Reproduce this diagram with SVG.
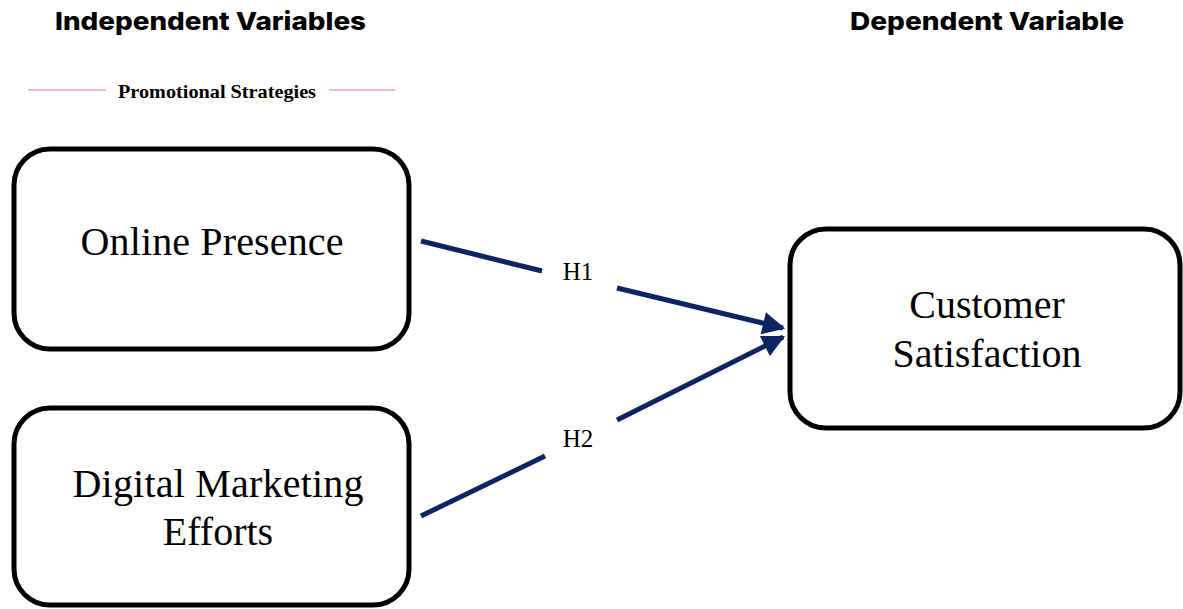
<svg xmlns="http://www.w3.org/2000/svg" width="1183" height="609" viewBox="0 0 1183 609">
<style>
.title{font-family:Inter,"Open Sans","Liberation Sans",sans-serif;font-weight:800;font-size:25px;fill:#000}
.box{fill:#fff;stroke:#000;stroke-width:5}
.lbl{font-family:"Liberation Serif","Times New Roman",serif;font-size:40px;fill:#000;text-anchor:middle}
.h{font-family:"Liberation Serif","Times New Roman",serif;font-size:25px;fill:#000;text-anchor:middle}
.conn{stroke:#0c2461;stroke-width:5;fill:none}
.sub{font-family:"Liberation Serif","Times New Roman",serif;font-weight:700;font-size:19px;fill:#000}
.red{stroke:#f4a3a3;stroke-width:1.5}
</style>
<defs>
<marker id="arr" viewBox="0 0 10 10" refX="9" refY="5" markerWidth="5" markerHeight="4.5" orient="auto" markerUnits="strokeWidth">
<path d="M0,0 L10,5 L0,10 z" fill="#0c2461"/>
</marker>
</defs>
<rect width="1183" height="609" fill="#fff"/>
<g id="headers">
<text class="title" x="55" y="30" textLength="311" lengthAdjust="spacingAndGlyphs">Independent Variables</text>
<text class="title" x="850" y="30" textLength="274" lengthAdjust="spacingAndGlyphs">Dependent Variable</text>
<line class="red" x1="28" y1="90" x2="106" y2="90"/>
<line class="red" x1="329" y1="90" x2="395" y2="90"/>
<text class="sub" x="118" y="98" textLength="198" lengthAdjust="spacingAndGlyphs">Promotional Strategies</text>
</g>
<g id="node-online-presence">
<rect class="box" x="14" y="149" width="395" height="200" rx="36"/>
<text class="lbl" x="212" y="255" textLength="263" lengthAdjust="spacing">Online Presence</text>
</g>
<g id="node-digital-marketing">
<rect class="box" x="14" y="408" width="395" height="197" rx="36"/>
<text class="lbl" x="218" y="497" textLength="291" lengthAdjust="spacing">Digital Marketing</text>
<text class="lbl" x="218" y="545">Efforts</text>
</g>
<g id="node-customer-satisfaction">
<rect class="box" x="790" y="229" width="390" height="199" rx="36"/>
<text class="lbl" x="987" y="318">Customer</text>
<text class="lbl" x="987" y="367">Satisfaction</text>
</g>
<g id="connectors">
<line class="conn" x1="421" y1="241" x2="542" y2="271"/>
<line class="conn" x1="617" y1="288" x2="783" y2="328" marker-end="url(#arr)"/>
<line class="conn" x1="421" y1="516" x2="545" y2="456"/>
<line class="conn" x1="617" y1="420" x2="783" y2="337" marker-end="url(#arr)"/>
<text class="h" x="578" y="280">H1</text>
<text class="h" x="578" y="447">H2</text>
</g>
</svg>
